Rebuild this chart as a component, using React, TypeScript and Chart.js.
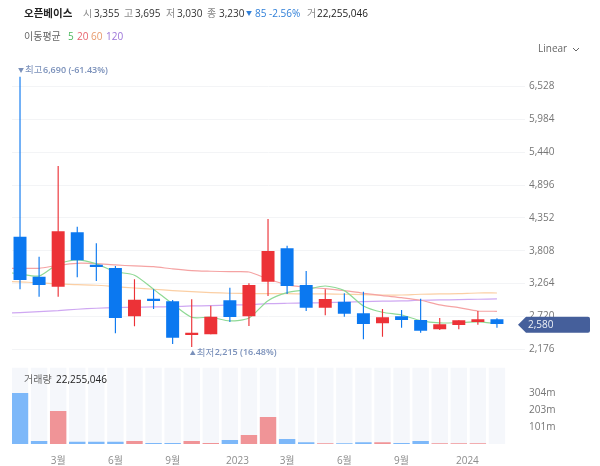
import React, { useEffect, useRef } from 'react';
import { Chart, registerables } from 'chart.js';

Chart.register(...registerables);

const FONT = "'Open Sans','Noto Sans CJK KR',sans-serif";

// monthly candles, [open, close, low, high]
const opens = [4041, 3378, 3213, 4114, 3577, 3523, 2723, 3014, 2971, 2413, 2425, 2988, 2723, 3296, 3849, 3241, 2865, 2964, 2772, 2607, 2723, 2661, 2507, 2579, 2628, 2673];
const closes = [3324, 3241, 4130, 3650, 3539, 2695, 2998, 2976, 2368, 2451, 2716, 2711, 3241, 3804, 3225, 2865, 3009, 2766, 2595, 2706, 2661, 2484, 2590, 2656, 2673, 2595];
const lows = [3170, 3047, 3047, 3368, 3307, 2441, 2557, 2843, 2264, 2215, 2425, 2628, 2562, 3059, 3092, 2810, 2739, 2716, 2342, 2385, 2534, 2451, 2496, 2507, 2584, 2534];
const highs = [6690, 3710, 5212, 4206, 3932, 3556, 3335, 3170, 2993, 3004, 2898, 3196, 3269, 4334, 3892, 3473, 3170, 3103, 3130, 2843, 2827, 3014, 2694, 2656, 2810, 2690];

// volume in millions
const volumes = [304, 18, 197, 14, 14, 14, 18, 6, 6, 18, 6, 24, 54, 161, 30, 10, 4, 4, 10, 10, 6, 18, 4, 4, 4, 0];
const volumeMax = 456;

// moving averages, first value sits one month left of the first candle
const ma5 = [3461, 3423, 3390, 3589, 3655, 3589, 3461, 3402, 3170, 2926, 2706, 2706, 2645, 2695, 2981, 3114, 3163, 3224, 3147, 2893, 2789, 2744, 2650, 2612, 2617, 2628, 2600];
const ma20 = [3517, 3517, 3517, 3567, 3600, 3594, 3572, 3556, 3544, 3506, 3478, 3468, 3461, 3456, 3340, 3241, 3203, 3180, 3147, 3104, 3064, 3031, 2988, 2910, 2865, 2810, 2805];
const ma60 = [3307, 3291, 3279, 3258, 3246, 3236, 3213, 3191, 3170, 3147, 3130, 3114, 3104, 3097, 3097, 3097, 3092, 3092, 3087, 3080, 3075, 3075, 3087, 3092, 3097, 3108, 3108];
const ma120 = [2772, 2782, 2799, 2815, 2839, 2855, 2865, 2872, 2877, 2882, 2893, 2898, 2910, 2915, 2931, 2938, 2943, 2948, 2955, 2965, 2972, 2976, 2988, 2993, 2998, 3004, 3009];

const priceTicks = [6528, 5984, 5440, 4896, 4352, 3808, 3264, 2720, 2176];
const volumeTicks = [304, 203, 101];
const xTickValues = [2, 5, 8, 11.4, 14, 17, 20, 23.45];
const xTickLabels = ['3월', '6월', '9월', '2023', '3월', '6월', '9월', '2024'];

const lastPrice = 2580;
const highPrice = 6690;
const lowPrice = 2215;
const highIndex = 0;
const lowIndex = 9;

const BLUE = '#0b78f0';
const RED = '#ec3237';

const candleColor = (i: number) => (closes[i] >= opens[i] ? RED : BLUE);

const drawMarker = (ctx: any, glyph: string, word: string, rest: string, x: number, y: number) => {
  ctx.fillStyle = '#7a90ba';
  ctx.font = `6px ${FONT}`;
  ctx.fillText(glyph, x, y);
  ctx.font = `9.5px ${FONT}`;
  ctx.fillText(word, x + 7, y);
  ctx.font = `600 9px ${FONT}`;
  ctx.fillText(rest, x + 25, y);
};

const markers = {
  id: 'markers',
  afterDatasetsDraw(chart: any) {
    const { ctx, scales } = chart;
    ctx.save();
    ctx.textBaseline = 'middle';
    ctx.textAlign = 'left';
    drawMarker(ctx, '▼', '최고', '6,690 (-61.43%)', scales.x.getPixelForValue(highIndex) - 2, scales.y.getPixelForValue(highPrice) - 6);
    drawMarker(ctx, '▲', '최저', '2,215 (16.48%)', scales.x.getPixelForValue(lowIndex) - 2, scales.y.getPixelForValue(lowPrice) + 6);

    // last price tag
    const y = scales.y.getPixelForValue(lastPrice);
    ctx.fillStyle = '#455f9b';
    ctx.beginPath();
    ctx.moveTo(518, y);
    ctx.lineTo(526, y - 8);
    ctx.lineTo(588, y - 8);
    ctx.quadraticCurveTo(590, y - 8, 590, y - 6);
    ctx.lineTo(590, y + 6);
    ctx.quadraticCurveTo(590, y + 8, 588, y + 8);
    ctx.lineTo(526, y + 8);
    ctx.closePath();
    ctx.fill();
    ctx.fillStyle = '#eef1f7';
    ctx.font = `10px ${FONT}`;
    ctx.fillText('2,580', 528, y);
    ctx.restore();
  }
};

const maDataset = (label: string, values: number[], color: string) => ({
  type: 'line' as const,
  label,
  data: values.map((y, i) => ({ x: i - 1, y })),
  yAxisID: 'y',
  borderColor: color,
  borderWidth: 1.2,
  pointRadius: 0,
  tension: 0.25,
  order: 5
});

const Label = ({ x, y, color = '#8a8a8a', bold = false, size = 10, children }: any) => (
  <span
    style={{
      position: 'absolute',
      left: x,
      top: y,
      transform: 'translateY(-50%)',
      color,
      fontWeight: bold ? 700 : 400,
      fontSize: size,
      whiteSpace: 'nowrap',
      lineHeight: 1
    }}
  >
    {children}
  </span>
);

const App = () => {
  const ref = useRef<HTMLCanvasElement | null>(null);

  useEffect(() => {
    if (!ref.current) return;
    const chart = new Chart(ref.current, {
      type: 'bar',
      data: {
        datasets: [
          {
            label: 'track',
            data: opens.map((_, i) => ({ x: i, y: volumeMax })),
            yAxisID: 'yVol',
            backgroundColor: '#f5f7fb',
            barPercentage: 0.86,
            categoryPercentage: 1,
            grouped: false,
            order: 10
          },
          {
            label: '거래량',
            data: volumes.map((y, i) => ({ x: i, y })),
            yAxisID: 'yVol',
            backgroundColor: volumes.map((_, i) => (closes[i] >= opens[i] ? '#f09497' : '#7db8f9')),
            barPercentage: 0.86,
            categoryPercentage: 1,
            grouped: false,
            order: 9
          },
          maDataset('5', ma5, '#8fd995'),
          maDataset('20', ma20, '#f5a3a3'),
          maDataset('60', ma60, '#fbcfa4'),
          maDataset('120', ma120, '#cfa8f2'),
          {
            label: 'wick',
            data: lows.map((low, i) => ({ x: i, y: [low, highs[i]] })),
            yAxisID: 'y',
            backgroundColor: opens.map((_, i) => candleColor(i)),
            barPercentage: 0.06,
            categoryPercentage: 1,
            grouped: false,
            order: 2
          },
          {
            label: 'body',
            data: opens.map((open, i) => ({ x: i, y: [open, closes[i]] })),
            yAxisID: 'y',
            backgroundColor: opens.map((_, i) => candleColor(i)),
            barPercentage: 0.68,
            categoryPercentage: 1,
            grouped: false,
            order: 1
          }
        ] as any
      },
      options: {
        animation: false,
        responsive: false,
        layout: { padding: { left: 12, top: 70, right: 0, bottom: 0 } },
        plugins: { legend: { display: false }, tooltip: { enabled: false } },
        font: { family: FONT },
        scales: {
          x: {
            type: 'linear',
            offset: false,
            min: -0.42,
            max: 26.47,
            grid: { display: false },
            border: { display: false },
            afterBuildTicks: (s: any) => {
              s.ticks = xTickValues.map(value => ({ value }));
            },
            afterFit: (s: any) => {
              s.height = 22;
            },
            ticks: {
              autoSkip: false,
              maxRotation: 0,
              padding: 3,
              color: '#8c8c8c',
              font: { family: FONT, size: 10 },
              callback: (v: any) => xTickLabels[xTickValues.indexOf(v)]
            }
          },
          y: {
            type: 'linear',
            position: 'right',
            stack: 'main',
            stackWeight: 297.5,
            weight: 0,
            min: 1874,
            max: 6801,
            grid: { color: '#f3f4f6', drawTicks: false },
            border: { display: false },
            afterBuildTicks: (s: any) => {
              s.ticks = priceTicks.map(value => ({ value }));
            },
            afterFit: (s: any) => {
              s.width = 75;
            },
            ticks: {
              padding: 4,
              color: '#757575',
              font: { family: FONT, size: 10 },
              callback: (v: any) => Number(v).toLocaleString('en-US')
            }
          },
          yVol: {
            type: 'linear',
            position: 'right',
            stack: 'main',
            stackWeight: 76.5,
            weight: 1,
            min: 0,
            max: volumeMax,
            grid: { display: false, drawTicks: false },
            border: { display: false },
            afterBuildTicks: (s: any) => {
              s.ticks = volumeTicks.map(value => ({ value }));
            },
            afterFit: (s: any) => {
              s.width = 75;
            },
            ticks: {
              padding: 4,
              color: '#757575',
              font: { family: FONT, size: 10 },
              callback: (v: any) => `${v}m`
            }
          }
        }
      } as any,
      plugins: [markers]
    });
    return () => chart.destroy();
  }, []);

  return (
    <div style={{ position: 'fixed', left: 0, top: 0, width: 600, height: 466, background: '#fff', fontFamily: FONT }}>
      <canvas ref={ref} width={600} height={466} style={{ display: 'block' }} />
      <Label x={24} y={13} color="#222" bold size={10.5}>오픈베이스</Label>
      <Label x={83} y={13}>시</Label>
      <Label x={94} y={13} color="#333">3,355</Label>
      <Label x={124} y={13}>고</Label>
      <Label x={135} y={13} color="#333">3,695</Label>
      <Label x={166} y={13}>저</Label>
      <Label x={177} y={13} color="#333">3,030</Label>
      <Label x={207} y={13}>종</Label>
      <Label x={219} y={13} color="#333">3,230</Label>
      <Label x={246} y={13} color="#2f7fd8" size={6}>▼</Label>
      <Label x={255} y={13} color="#2f7fd8">85</Label>
      <Label x={269} y={13} color="#2f7fd8">-2.56%</Label>
      <Label x={307} y={13}>거</Label>
      <Label x={317} y={13} color="#222">22,255,046</Label>
      <Label x={24} y={36} color="#666">이동평균</Label>
      <Label x={68} y={36} color="#4bb85e">5</Label>
      <Label x={77} y={36} color="#e8636e">20</Label>
      <Label x={91} y={36} color="#e89a6b">60</Label>
      <Label x={106} y={36} color="#9b74d8">120</Label>
      <Label x={538} y={48} color="#666">Linear</Label>
      <svg width={8} height={5} style={{ position: 'absolute', left: 572, top: 47 }}>
        <polyline points="1,1 4,4 7,1" fill="none" stroke="#666" strokeWidth={1} />
      </svg>
      <Label x={24} y={379} color="#666">거래량</Label>
      <Label x={56} y={379} color="#222">22,255,046</Label>
    </div>
  );
};

export default App;
